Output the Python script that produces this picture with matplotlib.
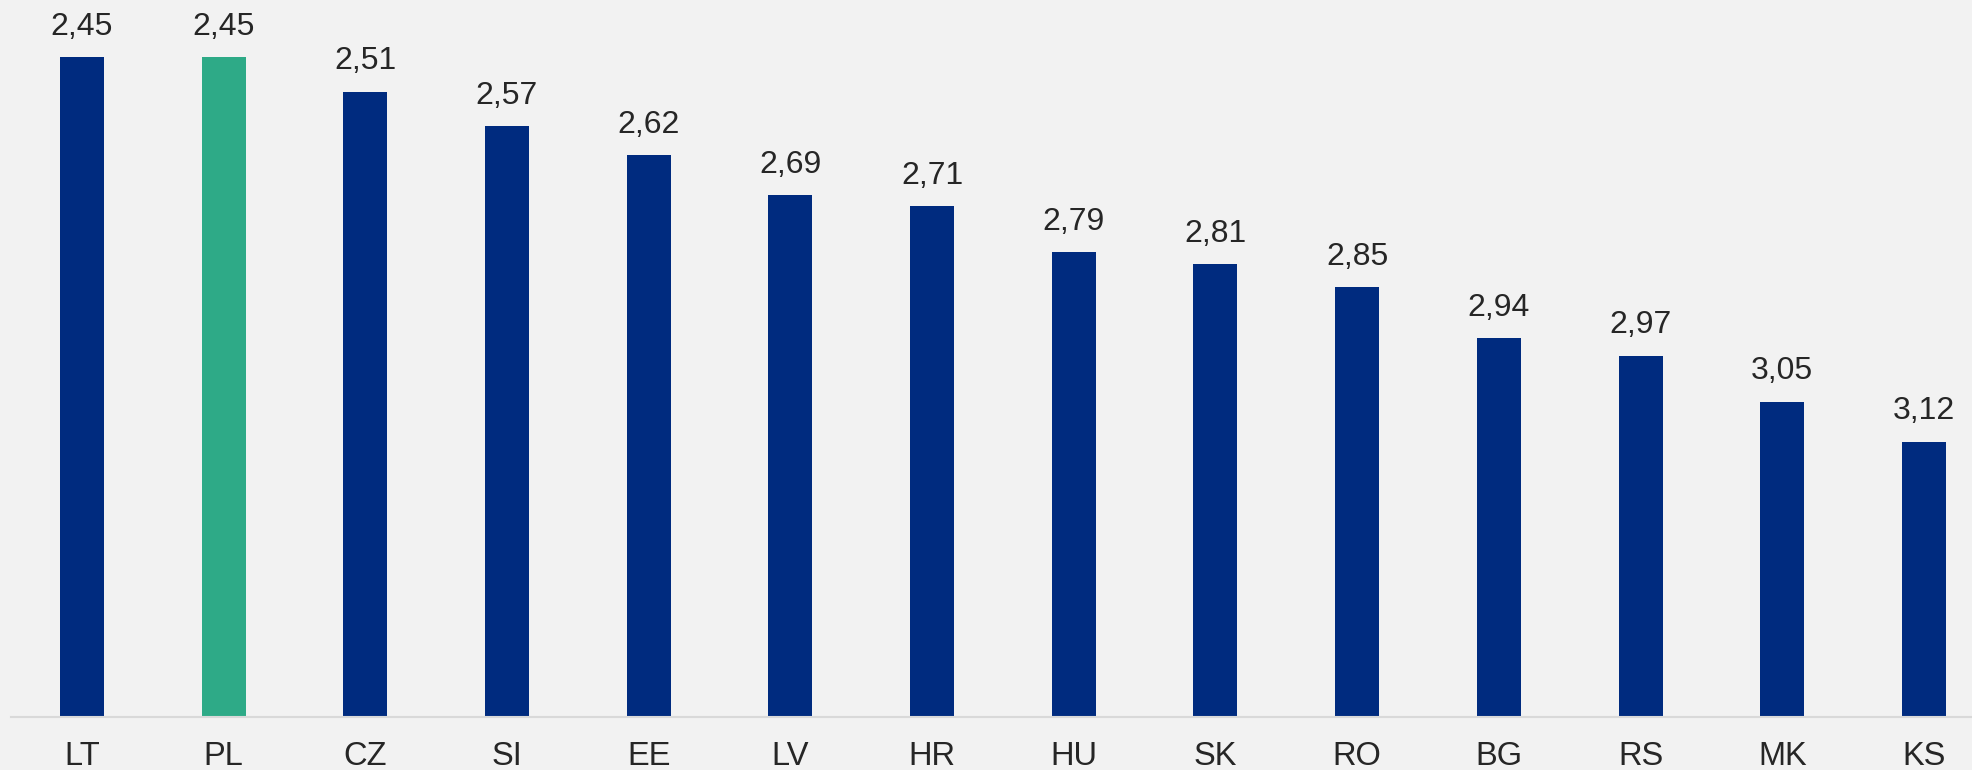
import matplotlib
matplotlib.use("Agg")
import matplotlib.pyplot as plt
import numpy as np

categories = ["LT", "PL", "CZ", "SI", "EE", "LV", "HR", "HU", "SK", "RO", "BG", "RS", "MK", "KS"]
values = [2.45, 2.45, 2.51, 2.57, 2.62, 2.69, 2.71, 2.79, 2.81, 2.85, 2.94, 2.97, 3.05, 3.12]
highlight = "PL"

plt.rcParams['font.family'] = ['Liberation Sans', 'DejaVu Sans']

W, H = 1972, 770
fig = plt.figure(figsize=(W / 100, H / 100), dpi=100)
bg = "#f2f2f2"
fig.patch.set_facecolor(bg)

left = 11 / W
bottom = (H - 717) / H
ax = fig.add_axes([left, bottom, 1 - left, 1 - bottom])
ax.set_facecolor(bg)

base = 3.6
x = np.arange(len(categories))
colors = ["#2eaa87" if c == highlight else "#002b7f" for c in categories]
vals = np.array(values)
ax.bar(x, vals - base, bottom=base, width=0.31, color=colors, zorder=2)

ax.set_ylim(base, 2.35)
slot = 141.7
ax.set_xlim(-0.5, -0.5 + (W - 11) / slot)

for xi, v in zip(x, values):
    ax.annotate(f"{v:.2f}".replace(".", ","), (xi, v), xytext=(0, 11),
                textcoords="offset points", ha="center", va="bottom",
                fontsize=23, color="#262626")

ax.set_xticks(x)
ax.set_xticklabels(categories, fontsize=23.5, color="#262626")
ax.tick_params(axis="x", length=0, pad=17)
ax.set_yticks([])
for s in ["top", "left", "right"]:
    ax.spines[s].set_visible(False)
ax.spines["bottom"].set_color("#d9d9d9")
ax.spines["bottom"].set_linewidth(1.5)

fig.savefig("out.png", dpi=100, facecolor=bg)
